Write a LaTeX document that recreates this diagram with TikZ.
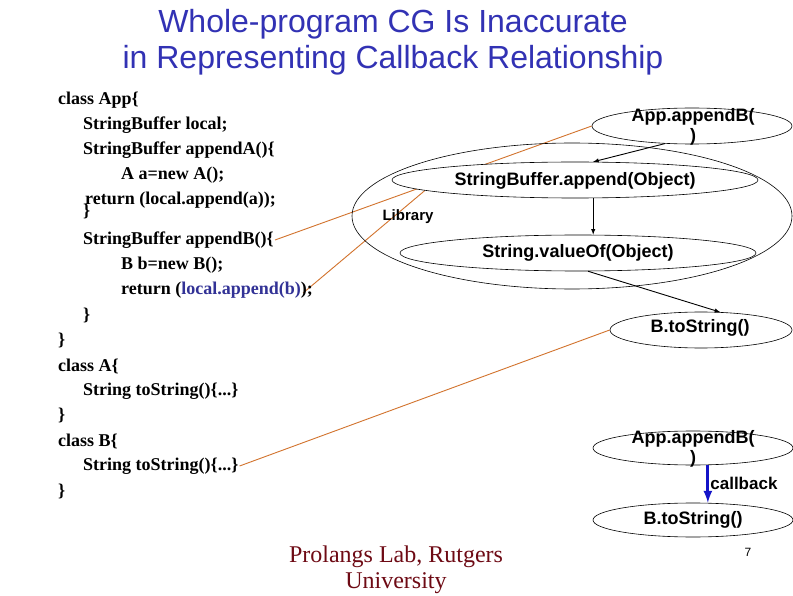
\documentclass[tikz,border=0pt]{standalone}
\usepackage{fontspec}
\setmainfont{Liberation Serif}
\setsansfont{Liberation Sans}
\usepackage{xcolor}
\usetikzlibrary{shapes.geometric}
\usetikzlibrary{calc}
\definecolor{titleblue}{RGB}{50,50,180}
\definecolor{codeblue}{RGB}{50,50,150}
\definecolor{linkorange}{RGB}{210,115,45}
\definecolor{labred}{RGB}{110,10,20}
\definecolor{cbblue}{RGB}{20,20,200}
\pgfdeclarelayer{paper}
\pgfdeclarelayer{links}
\pgfsetlayers{paper,links,main}

\begin{document}
\begin{tikzpicture}[x=1pt, y=-1pt,
	code/.style={anchor=west, inner sep=1pt, font=\fontsize{18}{20}\selectfont\bfseries},
	oval/.style={ellipse, draw, line width=0.6pt, fill=white, inner sep=0pt},
	ovaltext/.style={align=center, inner sep=0pt, font=\fontsize{18}{20}\selectfont\sffamily\bfseries},
	link/.style={color=linkorange, line width=0.9pt},
	call/.style={->, >=latex, line width=0.9pt}]
	\useasboundingbox (0,0) rectangle (793,596);
	\begin{pgfonlayer}{paper}
		\fill[white] (0,0) rectangle (793,596);
	\end{pgfonlayer}

	% title and footer
	\node[align=center, text=titleblue, font=\fontsize{32}{36}\selectfont\sffamily] (title) at (393,42) {Whole-program CG Is Inaccurate\\in Representing Callback Relationship};
	\node[align=center, text=labred, font=\fontsize{24}{26}\selectfont] (lab) at (396,570) {Prolangs Lab, Rutgers\\University};
	\node[font=\fontsize{12}{14}\selectfont\sffamily] (pg) at (748,552) {7};

	% source code
	\node[code] (l1) at (57,100) {class App\{};
	\node[code] (l2) at (82,125) {StringBuffer local;};
	\node[code] (l3) at (82,150) {StringBuffer appendA()\{};
	\node[code] (l4) at (120,175) {A a=new A();};
	\node[code] (l5) at (84,200) {return (local.append(a));};
	\node[code] (l5b) at (82,211) {\}};
	\node[code] (l6) at (82,240) {StringBuffer appendB()\{};
	\node[code] (l7) at (120,265) {B b=new B();};
	\node[code] (l8) at (120,290) {return (\textcolor{codeblue}{local.append(b)});};
	\node[code] (l9) at (82,315) {\}};
	\node[code] (l10) at (57,340) {\}};
	\node[code] (l11) at (57,366) {class A\{};
	\node[code] (l12) at (82,391) {String toString()\{...\}};
	\node[code] (l13) at (57,415) {\}};
	\node[code] (l14) at (57,441) {class B\{};
	\node[code] (l15) at (82,466) {String toString()\{...\}};
	\node[code] (l16) at (57,491) {\}};

	% call graph
	\node[ellipse, draw, line width=0.6pt, minimum width=440pt, minimum height=146pt] (lib) at (572,216) {};
	\node[font=\fontsize{15}{17}\selectfont\sffamily\bfseries] (libt) at (408,217) {Library};

	\node[oval, minimum width=200pt, minimum height=36pt] (appB) at (692,126) {};
	\node[ovaltext] (appBt) at (693,127) {App.appendB(\\)};
	\node[oval, minimum width=366pt, minimum height=36pt] (sbApp) at (575,180) {};
	\node[ovaltext] (sbAppt) at (575,181) {StringBuffer.append(Object)};
	\node[oval, minimum width=356pt, minimum height=36pt] (svOf) at (578,253) {};
	\node[ovaltext] (svOft) at (578,253) {String.valueOf(Object)};
	\node[oval, minimum width=182pt, minimum height=36pt] (bTs) at (701,330) {};
	\node[ovaltext] (bTst) at (700,328) {B.toString()};

	\draw[call] (appB.213) -- (sbApp.45);
	\draw[call] (sbApp.-45) -- (sbApp.-45 |- svOf.north);
	\draw[call] (svOf.-61) -- (bTs.43);

	% callback pair
	\node[oval, minimum width=200pt, minimum height=34pt] (appB2) at (693,448) {};
	\node[ovaltext] (appB2t) at (693,449) {App.appendB(\\)};
	\node[oval, minimum width=200pt, minimum height=34pt] (bTs2) at (693,520) {};
	\node[ovaltext] (bTs2t) at (693,520) {B.toString()};
	\draw[->, >=latex, line width=3pt, color=cbblue] (appB2.-49) -- node[right, inner sep=1pt, text=black, font=\fontsize{17}{19}\selectfont\sffamily\bfseries] (cbk) {callback} (appB2.-49 |- bTs2.north);

	% code to graph
	\begin{pgfonlayer}{links}
		\draw[link] (l6.east) -- (appB.west);
		\draw[link] ($(l8.east)+(-11,3)$) -- (sbApp.184);
		\draw[link] (l15.east) -- (bTs.west);
	\end{pgfonlayer}
\end{tikzpicture}
\end{document}
